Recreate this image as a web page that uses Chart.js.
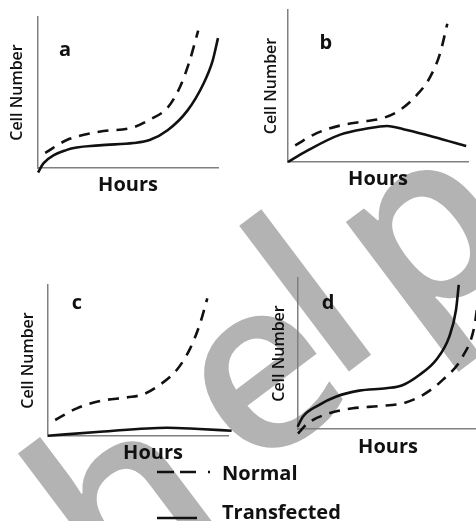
<!DOCTYPE html>
<html lang="en">
<head>
<meta charset="UTF-8">
<title>Cell Number vs Hours</title>
<script src="https://cdn.jsdelivr.net/npm/chart.js"></script>
<style>
    html, body { margin: 0; padding: 0; background: #fff; overflow: hidden; }
    body { width: 476px; height: 521px; position: relative; font-family: 'Open Sans', sans-serif; }
    #mark { position: absolute; left: 0; top: 0; }
    .panel { position: absolute; }
    .key { position: absolute; font: 700 20px/24px 'Open Sans', sans-serif; color: #111; white-space: nowrap; }
    .key svg { position: absolute; }
</style>
</head>
<body>
<canvas id="mark" width="476" height="521"></canvas>
<canvas id="panelA" class="panel" width="238" height="215" style="left:0;top:0"></canvas>
<canvas id="panelB" class="panel" width="238" height="215" style="left:238px;top:0"></canvas>
<canvas id="panelC" class="panel" width="238" height="215" style="left:0;top:260px"></canvas>
<canvas id="panelD" class="panel" width="242" height="215" style="left:238px;top:260px"></canvas>
<div id="legend"></div>

<script>
// values, each panel on a 0-100 scale for both axes
const aNormalHours = [4, 16, 34, 53, 62, 72, 79, 84, 89];
const aNormal      = [10, 18.5, 24, 27, 32, 40, 54, 70, 91];
const aTransHours  = [0, 3, 16, 34, 53, 62, 72, 83, 92, 97, 100];
const aTrans       = [-3, 3, 12, 15, 16.5, 18.5, 25, 38, 56, 71, 86];

const bNormalHours = [4, 16, 29, 44, 53, 62, 71.5, 79, 84.5, 88.5];
const bNormal      = [11, 19, 24, 27, 29, 34, 44, 56, 71.5, 91];
const bTransHours  = [0, 10, 29, 44, 55, 66, 81, 99];
const bTrans       = [0, 7, 18, 22, 23.7, 21, 16.5, 10.5];

const cNormalHours = [4, 16, 29, 44, 53, 62, 71.5, 79, 84.5, 88.5];
const cNormal      = [10.6, 18.3, 23.2, 25.6, 27.6, 33.8, 43.7, 58, 74.6, 91.2];
const cTransHours  = [0, 29, 66, 84, 102];
const cTrans       = [0.2, 2.8, 5.5, 4.6, 3.5];

const dNormalHours = [0, 5.4, 17.4, 30.4, 45.2, 58.2, 69.3, 80.4, 91.5, 98, 100];
const dNormal      = [-3, 3.8, 10.4, 13.7, 15.2, 17, 22.5, 32.5, 48, 68, 85];
const dTransHours  = [-0.2, 2.6, 11.8, 21, 34, 49, 58, 67.4, 76.7, 84, 87.8, 89.3];
const dTrans       = [1.5, 8, 16, 21.4, 25.4, 27, 29, 35.8, 45.7, 61, 79, 95.4];

const panelLetters = ['a', 'b', 'c', 'd'];
const legendLabels = ['Normal', 'Transfected'];
const xTitle = 'Hours';
const yTitle = 'Cell Number';

const zip = (xs, ys) => xs.map((x, i) => ({ x: x, y: ys[i] }));

// draws the little panel letter inside the plot
const panelLetter = {
    id: 'panelLetter',
    afterDatasetsDraw(chart, args, opts) {
        const { ctx, scales: { x, y } } = chart;
        ctx.save();
        ctx.font = '700 20px "Open Sans"';
        ctx.fillStyle = '#111';
        ctx.textAlign = 'center';
        ctx.textBaseline = 'middle';
        ctx.fillText(opts.text, x.getPixelForValue(opts.x), y.getPixelForValue(opts.y));
        ctx.restore();
    }
};

// box = wanted plot area + title centres, in page pixels; at = canvas position
function makePanel(id, at, box, letter, normal, trans, hoursText) {
    const yLine = 19.2, xLine = 24;
    const padLeft = box.yTitleX - at.x - yLine / 2;
    const yTitleGap = (box.L - at.x) - padLeft - yLine;
    const xTitleGap = box.xTitleY - box.B - xLine / 2;
    const canvas = document.getElementById(id);
    return new Chart(canvas, {
        type: 'line',
        data: {
            datasets: [
                {
                    label: legendLabels[0],
                    data: normal,
                    borderColor: '#111',
                    borderWidth: 2.6,
                    borderDash: [11, 8],
                    pointRadius: 0,
                    cubicInterpolationMode: 'monotone',
                    clip: false
                },
                {
                    label: legendLabels[1],
                    data: trans,
                    borderColor: '#111',
                    borderWidth: 2.6,
                    pointRadius: 0,
                    cubicInterpolationMode: 'monotone',
                    clip: false
                }
            ]
        },
        options: {
            responsive: false,
            animation: false,
            events: [],
            layout: {
                padding: {
                    left: padLeft,
                    top: box.T - at.y,
                    right: at.x + canvas.width - box.R,
                    bottom: at.y + canvas.height - (box.B + xLine + xTitleGap)
                }
            },
            scales: {
                x: {
                    type: 'linear', min: 0, max: 100,
                    ticks: { display: false },
                    grid: { display: false, drawTicks: false },
                    border: { display: true, color: '#808080', width: 1.5 },
                    title: {
                        display: true, text: hoursText || xTitle, color: '#111',
                        font: { family: 'Open Sans', size: 20, weight: '700' },
                        padding: { top: xTitleGap, bottom: 0 }
                    }
                },
                y: {
                    type: 'linear', min: 0, max: 100,
                    ticks: { display: false },
                    grid: { display: false, drawTicks: false },
                    border: { display: true, color: '#808080', width: 1.5 },
                    title: {
                        display: true, text: yTitle, color: '#111',
                        font: { family: 'Open Sans', size: 16, weight: '600' },
                        padding: { top: 0, bottom: yTitleGap }
                    }
                }
            },
            plugins: {
                legend: { display: false },
                tooltip: { enabled: false },
                panelLetter: letter
            }
        },
        plugins: [panelLetter]
    });
}

// faint watermark behind everything, one glyph at a time
const markGlyphs = ['h', 'e', 'l', 'p'];
const markCentres = [[118, 492], [267, 383], [305, 290], [448, 260]];
const wm = document.getElementById('mark').getContext('2d');
wm.font = '600 240px "Open Sans"';
wm.fillStyle = '#b3b3b3';
wm.textAlign = 'center';
wm.textBaseline = 'alphabetic';
markGlyphs.forEach((g, i) => {
    const m = wm.measureText(g);
    const mid = (m.actualBoundingBoxAscent - m.actualBoundingBoxDescent) / 2;
    const dx = (m.actualBoundingBoxRight - m.actualBoundingBoxLeft) / 2;
    wm.save();
    wm.translate(markCentres[i][0], markCentres[i][1]);
    wm.rotate(-37 * Math.PI / 180);
    wm.fillText(g, -dx, mid);
    wm.restore();
});

makePanel('panelA', { x: 0, y: 0 },
    { L: 38, T: 17, R: 218, B: 168, yTitleX: 17, xTitleY: 185 },
    { text: panelLetters[0], x: 15, y: 78 },
    zip(aNormalHours, aNormal), zip(aTransHours, aTrans));

makePanel('panelB', { x: 238, y: 0 },
    { L: 288, T: 10, R: 468, B: 162, yTitleX: 271, xTitleY: 179 },
    { text: panelLetters[1], x: 21, y: 78 },
    zip(bNormalHours, bNormal), zip(bTransHours, bTrans));

makePanel('panelC', { x: 0, y: 260 },
    { L: 48, T: 285, R: 228, B: 436, yTitleX: 28, xTitleY: 453 },
    { text: panelLetters[2], x: 16, y: 88 },
    zip(cNormalHours, cNormal), zip(cTransHours, cTrans), '\u2003\u2002' + xTitle);

makePanel('panelD', { x: 238, y: 260 },
    { L: 298, T: 278, R: 478, B: 429, yTitleX: 279, xTitleY: 447 },
    { text: panelLetters[3], x: 16.7, y: 83 },
    zip(dNormalHours, dNormal), zip(dTransHours, dTrans));

// key under the panels
const legend = document.getElementById('legend');
legend.innerHTML =
    '<div class="key" style="left:157px;top:461px;width:200px;height:24px">' +
    '<svg width="60" height="24" style="left:0;top:0"><line x1="0" y1="11" x2="54" y2="11" stroke="#111" stroke-width="2.6" stroke-dasharray="17 6 16 12 2"/></svg>' +
    '<span style="position:absolute;left:65px;top:0">' + legendLabels[0] + '</span></div>' +
    '<div class="key" style="left:157px;top:500px;width:200px;height:24px">' +
    '<svg width="60" height="24" style="left:0;top:0"><line x1="0" y1="18" x2="40" y2="18" stroke="#111" stroke-width="2.6"/></svg>' +
    '<span style="position:absolute;left:65px;top:0">' + legendLabels[1] + '</span></div>';
</script>
</body>
</html>
